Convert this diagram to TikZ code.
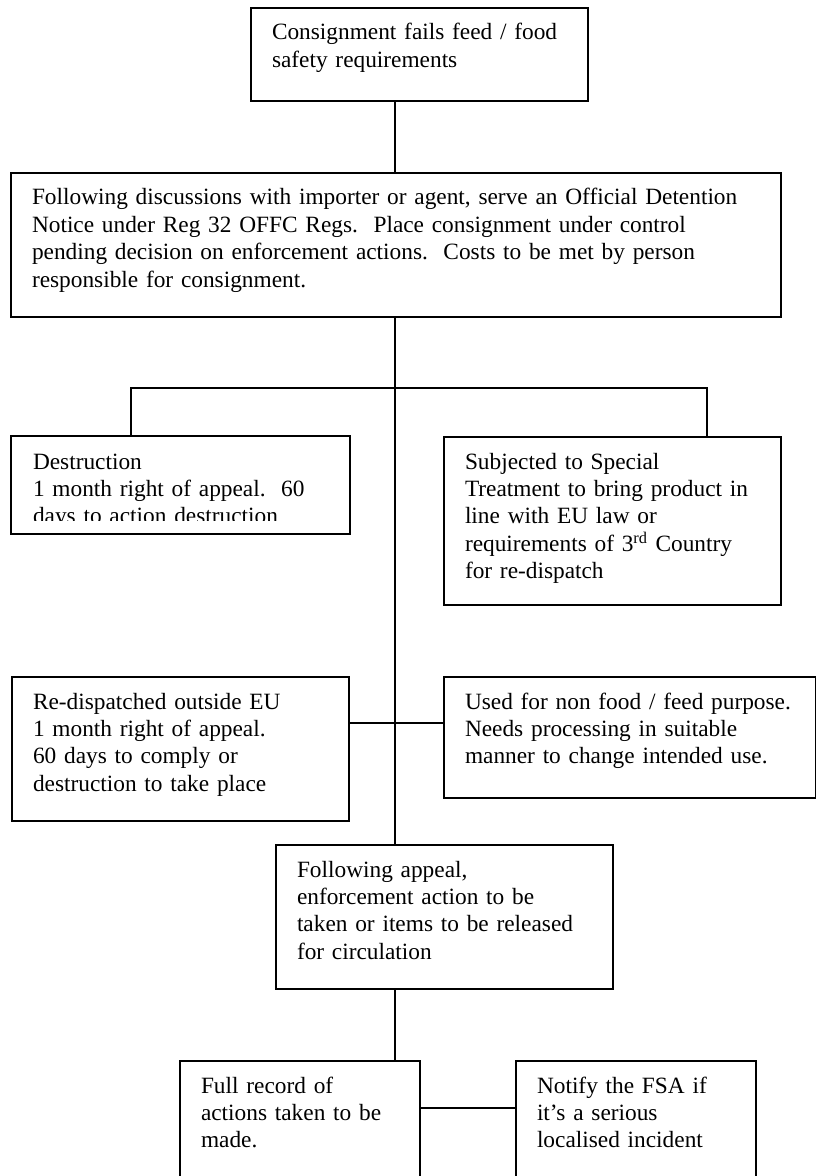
\documentclass[tikz,border=0pt]{standalone}
\usepackage{fontspec}
\setmainfont{Liberation Serif}
\usetikzlibrary{calc}

\begin{document}
\begin{tikzpicture}[x=0.75pt, y=-0.75pt, font=\fontsize{17.5pt}{20.6pt}\selectfont]
  % Box and Line Styles
  \tikzstyle{flowbox} = [draw, line width=1.5pt, anchor=north west, align=left,
    inner xsep=15.75pt, inner ysep=12pt, text height=12pt]
  \tikzstyle{link} = [line width=1.2pt]

  \useasboundingbox (0,0) rectangle (816,1176);
  \clip (0,0) rectangle (816,1176);

  % Column and Junction Points
  \coordinate (spine) at (395,0);
  \coordinate (fork) at (395,388);
  \coordinate (lfork) at (131,388);
  \coordinate (rfork) at (707,388);
  \coordinate (cross) at (395,723);
  \coordinate (tie) at (395,1108);

  % Stage 1: Failure and Detention
  \node[flowbox, text width=221.25pt, text depth=33.75pt] (fails) at (250,7)
    {Consignment fails feed / food\\
     safety requirements};

  \node[flowbox, text width=546pt, text depth=72pt] (detain) at (10,172)
    {Following discussions with importer or agent, serve an Official Detention\\
     Notice under Reg 32 OFFC Regs.\ \ Place consignment under control\\
     pending decision on enforcement actions.\ \ Costs to be met by person\\
     responsible for consignment.};

  % Stage 2: Enforcement Options
  \begin{scope}
    \clip (11,436) rectangle (348,520);
    \node[flowbox, draw=none, text width=221.25pt, text depth=36pt] (destroy) at (11,436)
      {Destruction\\
       1 month right of appeal.\ \ 60\\
       days to action destruction};
  \end{scope}
  \draw[line width=1.5pt] (destroy.north west) rectangle (destroy.south east);

  \node[flowbox, text width=221.25pt, text depth=90pt] (treat) at (443,436)
    {Subjected to Special\\
     Treatment to bring product in\\
     line with EU law or\\
     requirements of 3\textsuperscript{rd} Country\\
     for re-dispatch};

  \node[flowbox, text width=221.25pt, text depth=72pt] (redispatch) at (11,676)
    {Re-dispatched outside EU\\
     1 month right of appeal.\\
     60 days to comply or\\
     destruction to take place};

  \node[flowbox, text width=247.5pt, text depth=54.75pt] (reuse) at (443,676)
    {Used for non food / feed purpose.\\
     Needs processing in suitable\\
     manner to change intended use.};

  % Stage 3: Appeal and Follow-up
  \node[flowbox, text width=221.25pt, text depth=72pt] (appeal) at (275,844)
    {Following appeal,\\
     enforcement action to be\\
     taken or items to be released\\
     for circulation};

  \node[flowbox, text width=148.5pt, text depth=75pt] (record) at (179,1060)
    {Full record of\\
     actions taken to be\\
     made.};

  \node[flowbox, text width=148.5pt, text depth=75pt] (notify) at (515,1060)
    {Notify the FSA if\\
     it’s a serious\\
     localised incident};

  % Connecting Lines
  \draw[link] (fails.south -| spine) -- (detain.north -| spine);
  \draw[link] (detain.south -| spine) -- (fork) -- (appeal.north -| spine);
  \draw[link] (destroy.north -| lfork) -- (lfork) -- (rfork) -- (treat.north -| rfork);
  \draw[link] (redispatch.east |- cross) -- (reuse.west |- cross);
  \draw[link] (appeal.south -| spine) -- (record.north -| spine);
  \draw[link] (record.east |- tie) -- (notify.west |- tie);

\end{tikzpicture}
\end{document}
